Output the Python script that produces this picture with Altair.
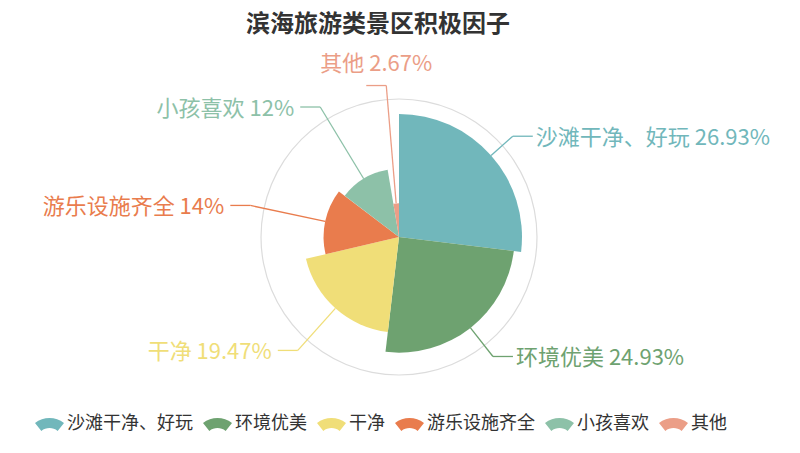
import altair as alt
import pandas as pd

categories = ["沙滩干净、好玩", "环境优美", "干净", "游乐设施齐全", "小孩喜欢", "其他"]
values = [26.93, 24.93, 19.47, 14, 12, 2.67]
colors = ["#71b7bb", "#6ea270", "#f0de78", "#e97c4d", "#8dc1a8", "#eb9e87"]

df = pd.DataFrame({"cat": categories, "value": values, "idx": list(range(len(categories)))})

CX, CY = 391, 179
R0, RMAX, RELBOW = 24, 123, 152

color_scale = alt.Scale(domain=categories, range=colors)

fan = "M -1 -0.048 A 1.6 1.6 0 0 1 1 -0.048 L 0.5625 0.498 A 0.9 0.9 0 0 0 -0.5625 0.498 Z"

base = alt.Chart(df)

ring = alt.Chart(alt.Data(values=[{"k": 1}])).mark_arc(
    radius=138.6, radius2=137.4, theta=0, theta2=6.2832, color="#dcdcdc"
).encode(x=alt.value(CX), y=alt.value(CY))

arcs = base.mark_arc().encode(
    theta=alt.Theta("value:Q", stack=True),
    radius=alt.Radius("value:Q", scale=alt.Scale(type="linear", zero=True, nice=False, range=[R0, RMAX])),
    radius2=alt.value(0),
    color=alt.Color("cat:N", scale=color_scale, sort=categories,
                    legend=alt.Legend(title=None, orient="none", direction="horizontal",
                                      legendX=27, legendY=351, symbolType=fan, symbolSize=841,
                                      symbolStrokeWidth=0, symbolOpacity=1, labelFontSize=18,
                                      labelFont="Noto Sans CJK SC", labelColor="#333333",
                                      labelOffset=3, columnPadding=10, padding=0, columns=6)),
    order=alt.Order("idx:Q"),
    x=alt.value(CX), y=alt.value(CY),
)

geo = base.transform_window(
    cum="sum(value)", sort=[alt.SortField("idx")], frame=[None, 0]
).transform_joinaggregate(
    total="sum(value)", vmax="max(value)"
).transform_calculate(
    a="(datum.cum - datum.value/2) / datum.total * 2 * PI",
).transform_calculate(
    rs=f"{R0} + ({RMAX}-{R0}) * datum.value / datum.vmax",
    side="sin(datum.a) >= 0 ? 1 : -1",
    top="abs(sin(datum.a)) < 0.2",
).transform_calculate(
    x0=f"{CX} + datum.rs * sin(datum.a)",
    y0=f"{CY} - datum.rs * cos(datum.a)",
    x1=f"{CX} + {RELBOW} * sin(datum.a)",
    y1=f"{CY} - {RELBOW} * cos(datum.a)",
).transform_calculate(
    x2="datum.x1 + datum.side * 20",
).transform_calculate(
    tx="datum.top ? (datum.x1 + datum.x2) / 2 : datum.x2 + datum.side * (datum.side > 0 ? 3 : 6)",
    ty="datum.top ? datum.y1 - 22 : datum.y1 + 2",
    al="datum.top ? 'center' : (datum.side > 0 ? 'left' : 'right')",
    label="datum.cat + ' ' + datum.value + '%'",
)

col_nl = alt.Color("cat:N", scale=color_scale, legend=None)

seg1 = geo.mark_rule(strokeWidth=1.3).encode(
    x=alt.X("x0:Q", scale=None), y=alt.Y("y0:Q", scale=None),
    x2="x1:Q", y2="y1:Q", color=col_nl,
)
seg2 = geo.mark_rule(strokeWidth=1.3).encode(
    x=alt.X("x1:Q", scale=None), y=alt.Y("y1:Q", scale=None),
    x2="x2:Q", y2="y1:Q", color=col_nl,
)
labels = geo.mark_text(
    align=alt.expr("datum.al"), baseline="middle", fontSize=22, font="Noto Sans CJK SC"
).encode(
    x=alt.X("tx:Q", scale=None), y=alt.Y("ty:Q", scale=None),
    text="label:N", color=col_nl,
)

chart = alt.layer(ring, arcs, seg1, seg2, labels).properties(
    width=784, height=387,
    autosize=alt.AutoSizeParams(type="none"),
    padding={"left": 0, "top": 50, "right": 0, "bottom": 0},
    title=alt.TitleParams("滨海旅游类景区积极因子", anchor="middle", frame="group", dx=-22,
                          offset=4, baseline="middle", fontSize=24, fontWeight="bold",
                          font="Noto Sans CJK SC", color="#333333"),
).configure_view(stroke=None)

chart.save("out.html", embed_options={"renderer": "svg", "actions": False})
